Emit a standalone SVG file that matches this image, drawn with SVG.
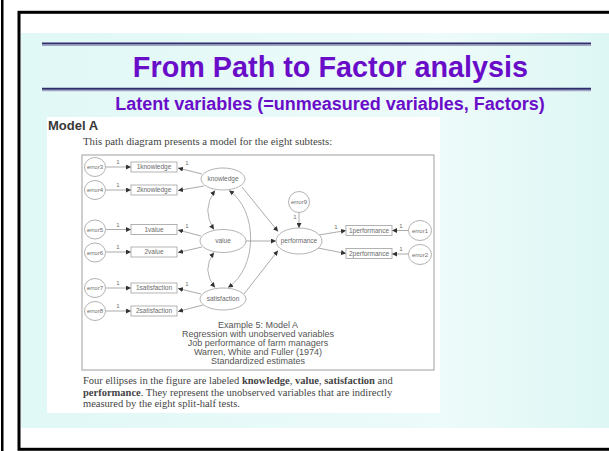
<svg xmlns="http://www.w3.org/2000/svg" width="609" height="451" viewBox="0 0 609 451">
<defs>
<linearGradient id="bg" x1="0" y1="0" x2="1" y2="0">
<stop offset="0" stop-color="#E0F8F6"/>
<stop offset="0.72" stop-color="#EDFBFA"/>
<stop offset="1" stop-color="#DDF7F4"/>
</linearGradient>
<marker id="ah" viewBox="0 0 10 10" refX="10" refY="5" markerWidth="5" markerHeight="5" markerUnits="userSpaceOnUse" orient="auto-start-reverse">
<path d="M0,0 L10,5 L0,10 z" fill="#333"/>
</marker>
<style>
.sans{font-family:"Liberation Sans",Arial,sans-serif}
.serif{font-family:"Liberation Serif","Times New Roman",serif}
.title{font-size:28.8px;font-weight:bold;fill:#6A0DC9;text-anchor:middle}
.sub{font-size:18px;font-weight:bold;fill:#6A0DC9;text-anchor:middle}
.rule{stroke:#2E2E6E;stroke-width:2}
.shade{stroke:#A4A4C4;stroke-width:1.3}
.box{fill:#fff;stroke:#a0a0a0;stroke-width:0.8}
.ell{fill:#fff;stroke:#a0a0a0;stroke-width:0.8}
.lbl{font-family:"Liberation Sans",Arial,sans-serif;font-size:6.5px;fill:#6a6a6a;text-anchor:middle}
.elbl{font-family:"Liberation Sans",Arial,sans-serif;font-size:6px;fill:#6a6a6a;text-anchor:middle}
.one{font-family:"Liberation Sans",Arial,sans-serif;font-size:6px;fill:#6a6a6a;text-anchor:middle}
.con{fill:none;stroke:#959595;stroke-width:0.8;marker-end:url(#ah)}
.cov{fill:none;stroke:#a0a0a0;stroke-width:0.8;marker-end:url(#ah);marker-start:url(#ah)}
.cap{font-family:"Liberation Sans",Arial,sans-serif;font-size:9px;fill:#555;text-anchor:middle}
.para{font-family:"Liberation Serif","Times New Roman",serif;font-size:10.5px;fill:#444}
</style>
</defs>

<!-- slide frame -->
<rect x="0" y="0" width="609" height="451" fill="#fff"/>
<rect x="1" y="0" width="2.5" height="451" fill="#000"/>
<rect x="21" y="33" width="588" height="395" fill="url(#bg)"/>
<rect x="19" y="12.3" width="600" height="437" fill="none" stroke="#000" stroke-width="3"/>

<line class="rule" x1="42" y1="43.5" x2="591" y2="43.5"/>
<line class="shade" x1="42" y1="45.3" x2="591" y2="45.3"/>
<text class="sans title" x="330.5" y="77">From Path to Factor analysis</text>
<line class="rule" x1="42" y1="88.8" x2="591" y2="88.8"/>
<line class="shade" x1="42" y1="90.6" x2="591" y2="90.6"/>
<text class="sans sub" x="330" y="110">Latent variables (=unmeasured variables, Factors)</text>

<!-- embedded figure -->
<rect x="47" y="117" width="393" height="296" fill="#fff"/>
<text class="sans" x="48" y="130" font-size="13" font-weight="bold" fill="#383838">Model A</text>
<text class="serif" x="83" y="145" font-size="10.8" fill="#444">This path diagram presents a model for the eight subtests:</text>
<rect x="82" y="155" width="352" height="215" fill="none" stroke="#b0b0b0" stroke-width="1.2"/>

<g id="connectors">
<line class="con" x1="106" y1="167" x2="131" y2="167"/>
<line class="con" x1="106" y1="190" x2="131" y2="190"/>
<line class="con" x1="106" y1="229.5" x2="131" y2="229.5"/>
<line class="con" x1="106" y1="252" x2="131" y2="252"/>
<line class="con" x1="106" y1="288" x2="131" y2="288"/>
<line class="con" x1="106" y1="311" x2="131" y2="311"/>
<line class="con" x1="202" y1="174" x2="178" y2="168"/>
<line class="con" x1="204" y1="186" x2="178" y2="190.5"/>
<line class="con" x1="201" y1="236" x2="178" y2="230"/>
<line class="con" x1="202" y1="247" x2="178" y2="252.5"/>
<line class="con" x1="201" y1="294" x2="178" y2="288.5"/>
<line class="con" x1="203" y1="305" x2="178" y2="311.5"/>
<path class="cov" d="M215,190.5 Q201,210 214,229.5"/>
<path class="cov" d="M214,252.5 Q201,270 215,287.5"/>
<path class="cov" d="M229,190.5 C258,210 258,268 228,287.5"/>
<line class="con" x1="242" y1="187" x2="278" y2="231.5"/>
<line class="con" x1="246" y1="241" x2="276" y2="241"/>
<line class="con" x1="244" y1="294" x2="278" y2="250.5"/>
<line class="con" x1="299" y1="212.5" x2="299" y2="228"/>
<line class="con" x1="319" y1="235" x2="346" y2="230.5"/>
<line class="con" x1="318" y1="248" x2="346" y2="253.5"/>
<line class="con" x1="408.5" y1="230.5" x2="392" y2="230.5"/>
<line class="con" x1="408.5" y1="254" x2="392" y2="254"/>
<text class="one" x="118" y="164">1</text>
<text class="one" x="118" y="187">1</text>
<text class="one" x="118" y="226.5">1</text>
<text class="one" x="118" y="249">1</text>
<text class="one" x="118" y="285">1</text>
<text class="one" x="118" y="308">1</text>
<text class="one" x="187" y="165">1</text>
<text class="one" x="187" y="228">1</text>
<text class="one" x="187" y="286">1</text>
<text class="one" x="295" y="219">1</text>
<text class="one" x="336" y="229">1</text>
<text class="one" x="401" y="227.5">1</text>
<text class="one" x="401" y="251">1</text>
</g>

<g id="error3"><ellipse class="ell" cx="95" cy="167" rx="10.5" ry="9.5"/><text class="elbl" x="95" y="169">error3</text></g>
<g id="error4"><ellipse class="ell" cx="95" cy="190" rx="10.5" ry="9.5"/><text class="elbl" x="95" y="192">error4</text></g>
<g id="error5"><ellipse class="ell" cx="95" cy="229.5" rx="10.5" ry="9.5"/><text class="elbl" x="95" y="231.5">error5</text></g>
<g id="error6"><ellipse class="ell" cx="95" cy="252.5" rx="10.5" ry="9.5"/><text class="elbl" x="95" y="254.5">error6</text></g>
<g id="error7"><ellipse class="ell" cx="95" cy="288" rx="10.5" ry="9.5"/><text class="elbl" x="95" y="290">error7</text></g>
<g id="error8"><ellipse class="ell" cx="95" cy="311" rx="10.5" ry="9.5"/><text class="elbl" x="95" y="313">error8</text></g>

<g id="k1"><rect class="box" x="131" y="162" width="46" height="10"/><text class="lbl" x="154" y="169.3">1knowledge</text></g>
<g id="k2"><rect class="box" x="131" y="185" width="46" height="10"/><text class="lbl" x="154" y="192.3">2knowledge</text></g>
<g id="v1"><rect class="box" x="131" y="224.5" width="46" height="10"/><text class="lbl" x="154" y="231.8">1value</text></g>
<g id="v2"><rect class="box" x="131" y="247" width="46" height="10"/><text class="lbl" x="154" y="254.3">2value</text></g>
<g id="s1"><rect class="box" x="131" y="283" width="46" height="10"/><text class="lbl" x="154" y="290.3">1satisfaction</text></g>
<g id="s2"><rect class="box" x="131" y="306" width="46" height="10"/><text class="lbl" x="154" y="313.3">2satisfaction</text></g>

<g id="knowledge"><ellipse class="ell" cx="223" cy="179" rx="22" ry="11"/><text class="lbl" x="223" y="181.3">knowledge</text></g>
<g id="value"><ellipse class="ell" cx="223" cy="241" rx="23" ry="11.5"/><text class="lbl" x="223" y="243.3">value</text></g>
<g id="satisfaction"><ellipse class="ell" cx="223" cy="299" rx="23" ry="11"/><text class="lbl" x="223" y="301.3">satisfaction</text></g>

<g id="error9"><ellipse class="ell" cx="299" cy="202" rx="10.5" ry="10.5"/><text class="elbl" x="299" y="204">error9</text></g>
<g id="performance"><ellipse class="ell" cx="299" cy="241" rx="23" ry="13"/><text class="lbl" x="299" y="243.3">performance</text></g>
<g id="p1"><rect class="box" x="346" y="225.5" width="46" height="10"/><text class="lbl" x="369" y="232.8">1performance</text></g>
<g id="p2"><rect class="box" x="346" y="248.5" width="46" height="10"/><text class="lbl" x="369" y="255.8">2performance</text></g>
<g id="error1"><ellipse class="ell" cx="420" cy="230.5" rx="11.5" ry="10"/><text class="elbl" x="420" y="232.5">error1</text></g>
<g id="error2"><ellipse class="ell" cx="420" cy="254.5" rx="11.5" ry="10"/><text class="elbl" x="420" y="256.5">error2</text></g>

<text class="cap" x="258" y="327.5">Example 5: Model A</text>
<text class="cap" x="258" y="336.5">Regression with unobserved variables</text>
<text class="cap" x="258" y="345.5">Job performance of farm managers</text>
<text class="cap" x="258" y="354.5">Warren, White and Fuller (1974)</text>
<text class="cap" x="258" y="363.5">Standardized estimates</text>

<text class="para" x="83" y="384">Four ellipses in the figure are labeled <tspan font-weight="bold">knowledge</tspan>, <tspan font-weight="bold">value</tspan>, <tspan font-weight="bold">satisfaction</tspan> and</text>
<text class="para" x="83" y="395.5"><tspan font-weight="bold">performance</tspan>. They represent the unobserved variables that are indirectly</text>
<text class="para" x="83" y="407">measured by the eight split-half tests.</text>
</svg>
